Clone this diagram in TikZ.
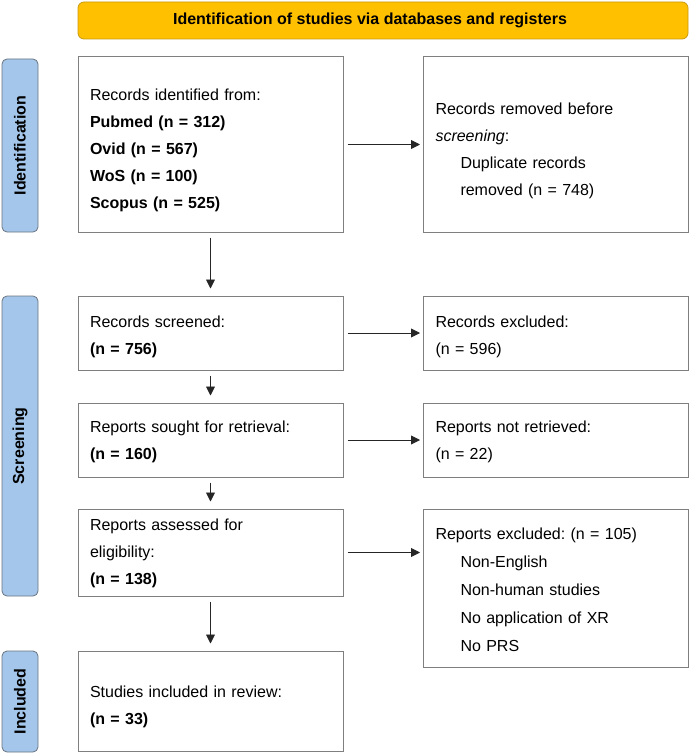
\documentclass[tikz,border=0pt]{standalone}
\usepackage{fontspec}
\setmainfont{Liberation Sans}
\usetikzlibrary{arrows.meta}
\frenchspacing
\definecolor{hdrfill}{HTML}{FFC000}
\definecolor{hdrdraw}{HTML}{C99A10}
\definecolor{sidefill}{HTML}{A4C6EA}
\definecolor{sidedraw}{HTML}{6A7580}
\definecolor{boxdraw}{HTML}{7F7F7F}
\newcommand{\pushdown}[1]{\rule{0pt}{#1}}
\tikzset{
  txt/.style={font=\fontsize{16}{27}\selectfont},
  flowbox/.style={txt, draw=boxdraw, line width=1pt, fill=white, align=left,
    text width=241pt, inner xsep=12pt, inner ysep=3pt, minimum width=265pt},
  sidebar/.style={font=\bfseries\fontsize{16}{19}\selectfont, draw=sidedraw, fill=sidefill,
    line width=0.8pt, rounded corners=5pt, rotate=90, minimum height=36pt, inner sep=0pt},
  header/.style={font=\bfseries\fontsize{16}{19}\selectfont, draw=hdrdraw, fill=hdrfill,
    line width=0.8pt, rounded corners=6pt, minimum width=610pt, minimum height=37pt},
  arr/.style={-{Triangle[length=9pt,width=9pt]}, line width=0.9pt, black!85},
  harr/.style={arr, shorten <=4pt, shorten >=3pt},
  varr/.style={arr, shorten <=5pt, shorten >=7pt}
}
\begin{document}
\begin{tikzpicture}[x=1pt,y=-1pt]
\useasboundingbox (0,0) rectangle (690,754);
% header
\node[header] (hdr) at (383,20.5) {Identification of studies via databases and registers\hspace*{26pt}};
% sidebars
\node[sidebar, minimum width=173pt] (sideid) at (20,145.5) {Identification};
\node[sidebar, minimum width=300pt] (sidescr) at (20,446) {Screening};
\node[sidebar, minimum width=101pt] (sideinc) at (20,701.5) {Included};
% left column
\node[flowbox, minimum height=175pt] (ident) at (210.5,144.5) {\pushdown{24pt}Records identified from:\\
\textbf{Pubmed (n = 312)}\\
\textbf{Ovid (n = 567)}\\
\textbf{WoS (n = 100)}\\
\textbf{Scopus (n = 525)}};
\node[flowbox, minimum height=74pt] (screened) at (210.5,333) {\pushdown{19pt}Records screened:\\
\textbf{(n = 756)}};
\node[flowbox, minimum height=74pt] (sought) at (210.5,440) {\pushdown{15pt}Reports sought for retrieval:\\
\textbf{(n = 160)}};
\node[flowbox, minimum height=87pt] (assessed) at (210.5,552.5) {\pushdown{14pt}Reports assessed for\\
eligibility:\\
\textbf{(n = 138)}};
\node[flowbox, minimum height=100pt] (included) at (210.5,701) {\pushdown{24pt}Studies included in review:\\
\textbf{(n = 33)}};
% right column
\node[flowbox, minimum height=175pt] (removed) at (556,144.5) {\pushdown{24pt}Records removed before\\
\textit{screening}:\\
\hspace*{25pt}Duplicate records\\
\hspace*{25pt}removed (n = 748)};
\node[flowbox, minimum height=74pt] (excluded) at (556,333) {\pushdown{19pt}Records excluded:\\
(n = 596)};
\node[flowbox, minimum height=74pt] (notretr) at (556,440) {\pushdown{15pt}Reports not retrieved:\\
(n = 22)};
\node[flowbox, font=\fontsize{16}{28}\selectfont, minimum height=158pt] (repexcl) at (556,588) {\pushdown{16pt}Reports excluded: (n = 105)\\
\hspace*{25pt}Non-English\\
\hspace*{25pt}Non-human studies\\
\hspace*{25pt}No application of XR\\
\hspace*{25pt}No PRS};
% horizontal arrows
\draw[harr] (ident.east) -- (removed.west);
\draw[harr] (screened.east) -- (excluded.west);
\draw[harr] (sought.east) -- (notretr.west);
\draw[harr] (assessed.east) -- (assessed.east -| repexcl.west);
% vertical arrows
\draw[varr] (ident.south) -- (screened.north);
\draw[varr] (screened.south) -- (sought.north);
\draw[varr] (sought.south) -- (assessed.north);
\draw[varr] (assessed.south) -- (included.north);
\end{tikzpicture}
\end{document}
